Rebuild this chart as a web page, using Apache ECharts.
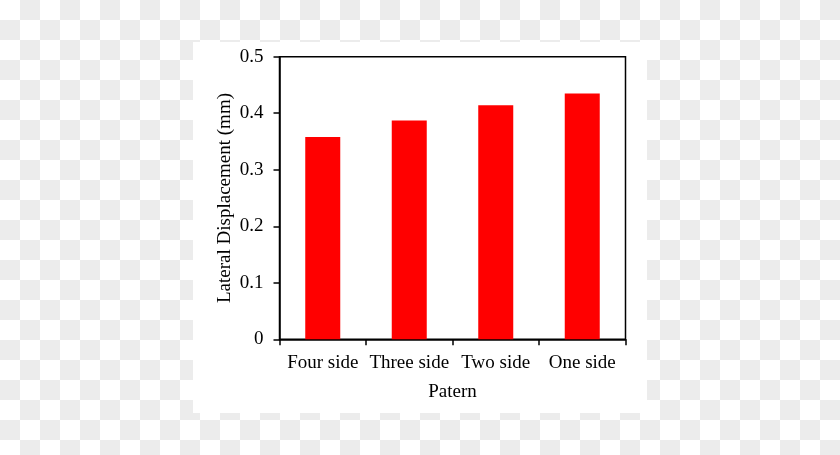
<!DOCTYPE html>
<html>
<head>
<meta charset="utf-8">
<script src="https://cdn.jsdelivr.net/npm/echarts@6/dist/echarts.min.js"></script>
<style>
html,body{margin:0;padding:0;width:840px;height:455px;overflow:hidden;}
body{background-color:#fff;background-image:conic-gradient(#ececec 0 25%, #ffffff 0 50%, #ececec 0 75%, #ffffff 0);background-size:40px 40px;position:relative;}
#paper{position:absolute;left:193px;top:42px;width:454px;height:371px;background:#fff;}
#chart{position:absolute;left:0;top:0;width:840px;height:455px;}
</style>
</head>
<body>
<div id="paper"></div>
<div id="chart"></div>
<script>
const categories = ['Four side', 'Three side', 'Two side', 'One side'];
const displacement = [0.358, 0.387, 0.414, 0.435];
const yAxisName = 'Lateral Displacement (mm)';
const xAxisName = 'Patern';

const font = 'Liberation Serif';
const chart = echarts.init(document.getElementById('chart'), null, {renderer: 'canvas'});
chart.setOption({
  backgroundColor: 'transparent',
  animation: false,
  grid: {left: 279.5, top: 56.7, right: 214.5, bottom: 115.7, show: true, borderColor: '#000', borderWidth: 1.5, backgroundColor: 'transparent'},
  xAxis: {
    type: 'category',
    data: categories,
    name: xAxisName,
    nameLocation: 'middle',
    nameGap: 43,
    nameTextStyle: {fontFamily: font, fontSize: 19, color: '#000'},
    axisLine: {lineStyle: {color: '#000', width: 1.5}},
    axisTick: {show: true, length: 6, lineStyle: {color: '#000', width: 1.5}},
    axisLabel: {fontFamily: font, fontSize: 19, color: '#000', margin: 14, interval: 0}
  },
  yAxis: {
    type: 'value',
    min: 0, max: 0.5, interval: 0.1,
    name: yAxisName,
    nameLocation: 'middle',
    nameGap: 45,
    nameTextStyle: {fontFamily: font, fontSize: 19, color: '#000'},
    axisLine: {show: true, lineStyle: {color: '#000', width: 1.5}},
    axisTick: {show: true, length: 6, lineStyle: {color: '#000', width: 1.5}},
    splitLine: {show: false},
    axisLabel: {fontFamily: font, fontSize: 19, color: '#000', margin: 16,
      formatter: v => (v === 0 ? '0' : v.toFixed(1))}
  },
  series: [{
    type: 'bar',
    data: displacement,
    barWidth: 35,
    itemStyle: {color: '#ff0000'}
  }]
});
</script>
</body>
</html>
